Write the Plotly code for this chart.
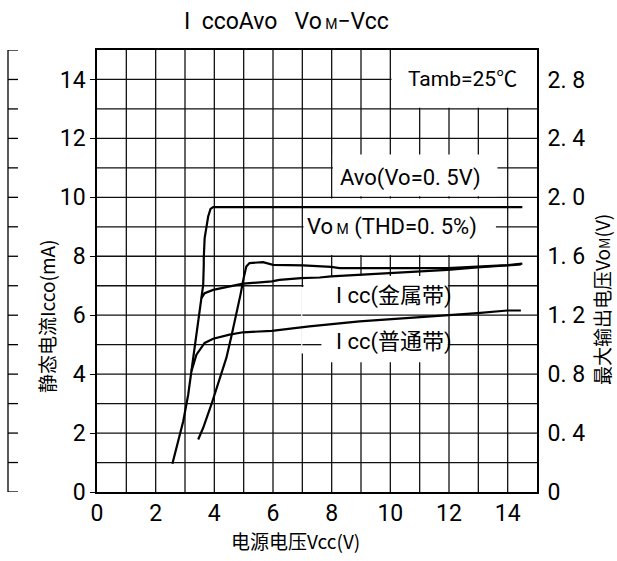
import plotly.graph_objects as go

# Supply voltage Vcc (V) vs. curves, left axis in mA units (right axis = 0.2 V per unit)
vom_x = [2.57, 2.73, 2.94, 3.11, 3.22, 3.33, 3.41, 3.50, 3.56, 3.62, 3.64, 3.64, 3.67, 3.73, 3.79, 3.87, 3.96, 14.5]
vom_y = [0.96, 1.55, 2.40, 3.31, 4.10, 4.77, 5.45, 6.13, 6.58, 7.03, 7.71, 7.94, 8.62, 9.01, 9.35, 9.61, 9.67, 9.67]

avo_x = [3.45, 3.62, 3.90, 4.18, 4.41, 4.58, 4.75, 4.89, 5.00, 5.09, 5.20, 5.66, 6.00, 7.02, 7.98, 8.27, 11.95, 12.97, 13.99, 14.5]
avo_y = [1.78, 2.18, 2.97, 3.87, 4.55, 5.28, 6.02, 6.69, 7.26, 7.65, 7.77, 7.80, 7.71, 7.69, 7.64, 7.60, 7.60, 7.64, 7.70, 7.75]

icc_metal_x = [3.56, 3.67, 3.96, 4.52, 4.98, 5.96, 6.22, 6.96, 7.59, 7.98, 8.95, 11.95, 12.97, 14.28, 14.45]
icc_metal_y = [6.58, 6.75, 6.86, 6.98, 7.07, 7.15, 7.20, 7.26, 7.28, 7.32, 7.37, 7.54, 7.62, 7.71, 7.72]

icc_plain_x = [3.22, 3.39, 3.67, 3.96, 4.52, 4.98, 5.96, 7.24, 8.95, 10.65, 11.95, 12.97, 13.99, 14.45]
icc_plain_y = [4.10, 4.66, 5.06, 5.20, 5.34, 5.42, 5.47, 5.62, 5.79, 5.90, 5.99, 6.07, 6.16, 6.16]

left_ticks = [0, 2, 4, 6, 8, 10, 12, 14]
x_ticks = [0, 2, 4, 6, 8, 10, 12, 14]
right_vals = [0, 0.4, 0.8, 1.2, 1.6, 2.0, 2.4, 2.8]
right_text = ["0", "0. 4", "0. 8", "1. 2", "1. 6", "2. 0", "2. 4", "2. 8"]

FONT = "Roboto, Noto Sans CJK SC, sans-serif"
CJK = "Noto Sans CJK SC, sans-serif"
GRID = "#111111"
GW = 1.3

fig = go.Figure()
for xs, ys, name in [(vom_x, vom_y, "VoM"), (avo_x, avo_y, "Avo"),
                     (icc_metal_x, icc_metal_y, "Icc(金属带)"),
                     (icc_plain_x, icc_plain_y, "Icc(普通带)")]:
    fig.add_trace(go.Scatter(x=xs, y=ys, mode="lines", name=name,
                             line=dict(color="black", width=2.2), showlegend=False))
# invisible trace to activate the right axis
fig.add_trace(go.Scatter(x=[0], y=[0], yaxis="y2", mode="markers",
                         marker=dict(opacity=0), showlegend=False, hoverinfo="skip"))

shapes = []
# 1-unit grid drawn underneath the curves
for v in range(1, 15):
    shapes.append(dict(type="line", xref="x", yref="y", x0=v, x1=v, y0=0, y1=15,
                       line=dict(color=GRID, width=GW), layer="below"))
    shapes.append(dict(type="line", xref="x", yref="y", x0=0, x1=15, y0=v, y1=v,
                       line=dict(color=GRID, width=GW), layer="below"))
# white label panels (grid hidden behind them)
panels = [
    (10.04, 15.0, 13.04, 15.0),
    (8.04, 13.65, 10.04, 11.45),
    (7.04, 13.6, 8.04, 9.96),
    (6.96, 7.5, 4.7, 6.96),
    (7.04, 11.96, 4.4, 7.33),
]
for x0, x1, y0, y1 in panels:
    shapes.append(dict(type="rect", xref="x", yref="y", x0=x0, x1=x1, y0=y0, y1=y1,
                       fillcolor="white", line=dict(width=0), layer="below"))
# grid lines that pass through the panels
for x0, x1, y in [(7.0, 12.0, 6.0), (7.0, 7.65, 5.0)]:
    shapes.append(dict(type="line", xref="x", yref="y", x0=x0, x1=x1, y0=y, y1=y,
                       line=dict(color=GRID, width=GW), layer="below"))
# outer scale bracket on the far left
bx0, bx1 = (8 - 97) / 440, (18 - 97) / 440
shapes.append(dict(type="line", xref="paper", yref="y", x0=bx0, x1=bx0, y0=0, y1=15,
                   line=dict(color="black", width=1.3)))
for v in range(16):
    shapes.append(dict(type="line", xref="paper", yref="y", x0=bx0, x1=bx1, y0=v, y1=v,
                       line=dict(color="black", width=1.3)))


def px_x(px):
    return (px - 97) / 440


def px_y(py):
    return (492 - py) / 442


def note(text, x, y, size, family=FONT, ref="paper", angle=0):
    return dict(text=text, x=x, y=y, xref="paper" if ref == "paper" else "x",
                yref="paper" if ref == "paper" else "y", showarrow=False,
                xanchor="center", yanchor="middle", textangle=angle,
                font=dict(family=family, size=size, color="black"))


annotations = [
    note("I  ccoAvo   Vo<span style='font-size:14px'> M</span>−Vcc", px_x(286), px_y(21), 23),
    note("电源电压Vcc(V)", px_x(295), px_y(540), 19, CJK),
    note("静态电流Icco(mA)", px_x(46), px_y(316), 19, CJK, angle=-90),
    note("最大输出电压Vo<span style='font-size:14px'>M</span>(V)", px_x(601), px_y(300), 19, CJK, angle=-90),
    note("Tamb=25℃", 12.45, 14.0, 21, ref="data"),
    note("Avo(Vo=0. 5V)", 10.68, 10.67, 22, ref="data"),
    note("Vo<span style='font-size:14px'> M</span> (THD=0. 5%)", 10.07, 9.0, 22, ref="data"),
    note("I cc(金属带)", 10.14, 6.64, 22, ref="data"),
    note("I cc(普通带)", 10.14, 5.08, 22, ref="data"),
]

axis_font = dict(family=FONT, size=23, color="black")
fig.update_layout(
    width=617, height=561,
    margin=dict(l=97, r=80, t=50, b=69),
    paper_bgcolor="white", plot_bgcolor="white",
    showlegend=False,
    shapes=shapes,
    annotations=annotations,
    xaxis=dict(range=[0, 15], tickvals=x_ticks, showgrid=False,
               showline=True, linecolor="black", linewidth=1.6, mirror=True,
               ticks="", zeroline=False, tickfont=axis_font),
    yaxis=dict(range=[0, 15], tickvals=left_ticks, showgrid=False,
               showline=True, linecolor="black", linewidth=1.6, mirror=True,
               ticks="outside", ticklen=5, tickcolor="black", zeroline=False, tickfont=axis_font),
    yaxis2=dict(range=[0, 3], overlaying="y", side="right", tickvals=right_vals, ticktext=right_text,
                showgrid=False, zeroline=False, showline=False, ticks="outside", ticklen=5,
                tickcolor="rgba(0,0,0,0)", tickfont=axis_font),
)

fig.write_html("out.html")
